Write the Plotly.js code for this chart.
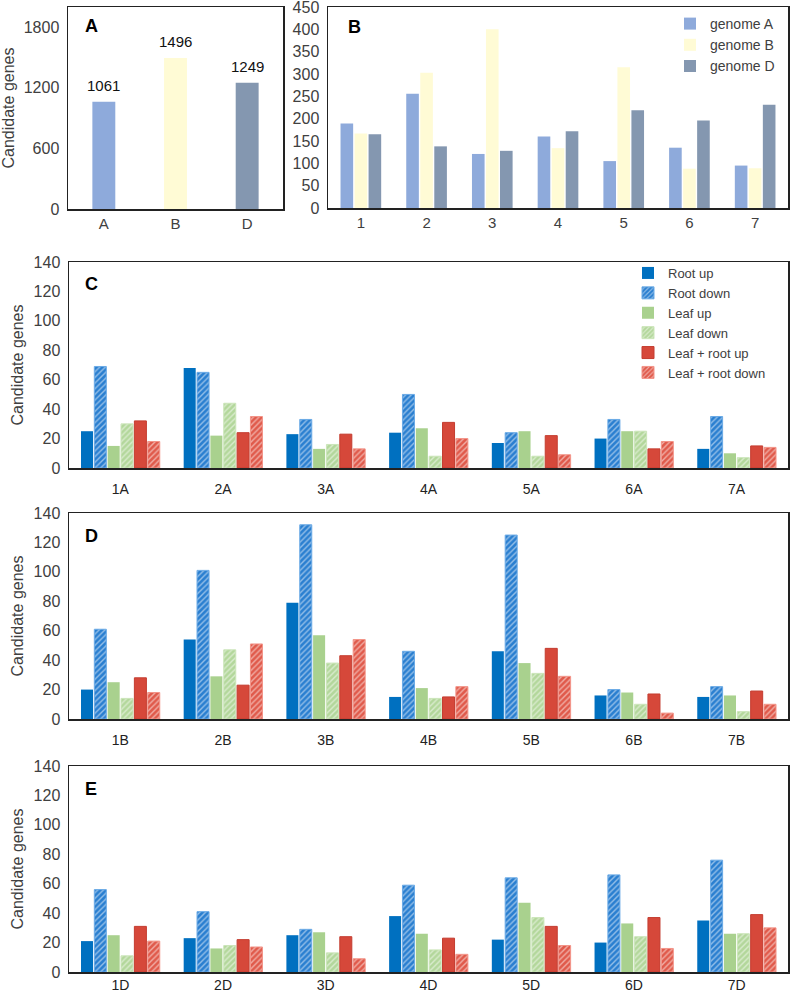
<!DOCTYPE html>
<html>
<head>
<meta charset="utf-8">
<script src="https://cdn.plot.ly/plotly-3.0.1.min.js"></script>
<style>
  html, body { margin: 0; padding: 0; background: #fff; }
  #chart { width: 790px; height: 994px; }
</style>
</head>
<body>
<div id="chart"></div>
<script>
// Panel A - candidate genes per sub-genome
const genomes = ["A", "B", "D"];
const genomeTotals = [1061, 1496, 1249];

// Panel B - candidate genes per homoeologous group
const groups = ["1", "2", "3", "4", "5", "6", "7"];
const genomeA = [189, 256, 121, 160, 105, 135, 95];
const genomeB = [167, 303, 400, 134, 315, 88, 89];
const genomeD = [165, 138, 128, 172, 219, 196, 231];

// Panel C - A genome chromosomes
const chromA = ["1A", "2A", "3A", "4A", "5A", "6A", "7A"];
const rootUpA = [25, 68, 23, 24, 17, 20, 13];
const rootDownA = [69, 65, 33, 50, 24, 33, 35];
const leafUpA = [15, 22, 13, 27, 25, 25, 10];
const leafDownA = [30, 44, 16, 8, 8, 25, 7];
const bothUpA = [32, 24, 23, 31, 22, 13, 15];
const bothDownA = [18, 35, 13, 20, 9, 18, 14];

// Panel D - B genome chromosomes
const chromB = ["1B", "2B", "3B", "4B", "5B", "6B", "7B"];
const rootUpB = [20, 54, 79, 15, 46, 16, 15];
const rootDownB = [61, 101, 132, 46, 125, 20, 22];
const leafUpB = [25, 29, 57, 21, 38, 18, 16];
const leafDownB = [14, 47, 38, 14, 31, 10, 5];
const bothUpB = [28, 23, 43, 15, 48, 17, 19];
const bothDownB = [18, 51, 54, 22, 29, 4, 10];

// Panel E - D genome chromosomes
const chromD = ["1D", "2D", "3D", "4D", "5D", "6D", "7D"];
const rootUpD = [21, 23, 25, 38, 22, 20, 35];
const rootDownD = [56, 41, 29, 59, 64, 66, 76];
const leafUpD = [25, 16, 27, 26, 47, 33, 26];
const leafDownD = [11, 18, 13, 15, 37, 24, 26];
const bothUpD = [31, 22, 24, 23, 31, 37, 39];
const bothDownD = [21, 17, 9, 12, 18, 16, 30];

const FONT = "Liberation Sans, Arial, sans-serif";
const genomeNames = ["genome A", "genome B", "genome D"];
const genomeColors = ["#8eaadb", "#fffbd5", "#8497b0"];

// styling of the six expression series
const seriesStyle = [
  { name: "Root up", color: "#0070c0", hatch: false },
  { name: "Root down", color: "#2a7fd0", hatch: true, edge: "#6aaae6" },
  { name: "Leaf up", color: "#a9d18e", hatch: false },
  { name: "Leaf down", color: "#b3d79b", hatch: true, edge: "#cbe5b9" },
  { name: "Leaf + root up", color: "#d6483a", hatch: false, edge: "#c43d30" },
  { name: "Leaf + root down", color: "#e05a4b", hatch: true, edge: "#f39488" },
];

function seriesMarker(s) {
  const m = { color: s.color, line: { color: s.edge || s.color, width: s.edge ? 1 : 0 } };
  if (s.hatch) {
    m.pattern = { shape: "/", fillmode: "overlay", bgcolor: s.color, fgcolor: "#ffffff", size: 4, solidity: 0.35 };
  }
  return m;
}

function panelTraces(cats, values, xa, ya, legendOn) {
  return values.map((v, i) => ({
    type: "bar",
    x: cats,
    y: v,
    name: seriesStyle[i].name,
    xaxis: xa,
    yaxis: ya,
    legend: "legend2",
    showlegend: legendOn,
    marker: seriesMarker(seriesStyle[i]),
    hoverinfo: "x+y+name",
  }));
}

const traces = [];

// panel A
traces.push({
  type: "bar",
  x: genomes,
  y: genomeTotals,
  xaxis: "x",
  yaxis: "y",
  width: 0.32,
  showlegend: false,
  marker: { color: genomeColors },
});

// panel B - grouped bars with their own gap (layout bargap is shared)
const bSeries = [genomeA, genomeB, genomeD];
const bGroupW = 0.64, bSlot = bGroupW / 3, bBarW = bSlot * 0.9;
bSeries.forEach((v, i) => {
  traces.push({
    type: "bar",
    x: groups,
    y: v,
    name: genomeNames[i],
    xaxis: "x2",
    yaxis: "y2",
    width: bBarW,
    offset: -bGroupW / 2 + i * bSlot + (bSlot - bBarW) / 2,
    legend: "legend",
    marker: { color: genomeColors[i] },
  });
});

traces.push(...panelTraces(chromA, [rootUpA, rootDownA, leafUpA, leafDownA, bothUpA, bothDownA], "x3", "y3", true));
traces.push(...panelTraces(chromB, [rootUpB, rootDownB, leafUpB, leafDownB, bothUpB, bothDownB], "x4", "y4", false));
traces.push(...panelTraces(chromD, [rootUpD, rootDownD, leafUpD, leafDownD, bothUpD, bothDownD], "x5", "y5", false));

const W = 790, H = 994;
const px = (a, b) => [a / W, b / W];
const py = (top, bottom) => [1 - bottom / H, 1 - top / H];

const boxAxis = {
  showline: true, mirror: true, linecolor: "#222", linewidth: 1.5,
  showgrid: false, zeroline: false, ticks: "", automargin: false, fixedrange: true,
  ticklabeloverflow: "allow",
};
const yTitle = { text: "Candidate genes", font: { size: 16, color: "#404040" }, standoff: 6 };
const yTick = { size: 16, color: "#404040" };
const xTick = { size: 14, color: "#222" };

const layout = {
  width: W,
  height: H,
  margin: { l: 0, r: 0, t: 0, b: 0 },
  paper_bgcolor: "#fff",
  plot_bgcolor: "#fff",
  font: { family: FONT, color: "#222" },
  barmode: "group",
  bargap: 0.22,
  bargroupgap: 0.1,
  xaxis: Object.assign({}, boxAxis, { type: "category", domain: px(68, 283), anchor: "y", tickfont: { size: 15, color: "#404040" }, ticklabelstandoff: 0 }),
  yaxis: Object.assign({}, boxAxis, { domain: py(7, 209), anchor: "x", range: [0, 2000], tickvals: [0, 600, 1200, 1800], tickfont: yTick, title: yTitle, ticklabelstandoff: 4 }),
  xaxis2: Object.assign({}, boxAxis, { type: "category", domain: px(328, 788), anchor: "y2", tickfont: { size: 15, color: "#404040" }, ticklabelstandoff: 0 }),
  yaxis2: Object.assign({}, boxAxis, { domain: py(7, 208), anchor: "x2", range: [0, 450], tickvals: [0, 50, 100, 150, 200, 250, 300, 350, 400, 450], tickfont: yTick, ticklabelstandoff: 4 }),
  xaxis3: Object.assign({}, boxAxis, { type: "category", domain: px(69, 788), anchor: "y3", tickfont: xTick, ticklabelstandoff: 8 }),
  yaxis3: Object.assign({}, boxAxis, { domain: py(262, 468), anchor: "x3", range: [0, 140], dtick: 20, tickfont: yTick, title: yTitle, ticklabelstandoff: 4 }),
  xaxis4: Object.assign({}, boxAxis, { type: "category", domain: px(69, 788), anchor: "y4", tickfont: xTick, ticklabelstandoff: 8 }),
  yaxis4: Object.assign({}, boxAxis, { domain: py(513, 719), anchor: "x4", range: [0, 140], dtick: 20, tickfont: yTick, title: yTitle, ticklabelstandoff: 4 }),
  xaxis5: Object.assign({}, boxAxis, { type: "category", domain: px(69, 788), anchor: "y5", tickfont: xTick, ticklabelstandoff: 0 }),
  yaxis5: Object.assign({}, boxAxis, { domain: py(766, 972), anchor: "x5", range: [0, 140], dtick: 20, tickfont: yTick, title: yTitle, ticklabelstandoff: 4 }),
  legend: {
    x: 670 / W, y: 1 - 8 / H, xanchor: "left", yanchor: "top",
    bgcolor: "rgba(0,0,0,0)", font: { size: 14, color: "#404040" },
    itemwidth: 30, tracegroupgap: 0,
  },
  legend2: {
    x: 628 / W, y: 1 - 258 / H, xanchor: "left", yanchor: "top",
    bgcolor: "rgba(0,0,0,0)", font: { size: 13, color: "#404040" },
    itemwidth: 30, tracegroupgap: 0,
  },
  annotations: [],
};

// value labels above the panel A bars
genomes.forEach((g, i) => {
  layout.annotations.push({
    x: g, y: genomeTotals[i], xref: "x", yref: "y",
    text: String(genomeTotals[i]), showarrow: false,
    yanchor: "bottom", yshift: 6, font: { size: 15, color: "#111" },
  });
});

// panel letters
const letters = [["A", 83, 26], ["B", 346, 27], ["C", 83, 284], ["D", 83, 536], ["E", 83, 789]];
letters.forEach(([t, x, y]) => {
  layout.annotations.push({
    x: x / W, y: 1 - y / H, xref: "paper", yref: "paper",
    xanchor: "left", yanchor: "middle", showarrow: false,
    text: "<b>" + t + "</b>", font: { size: 18, color: "#000" },
  });
});

Plotly.newPlot("chart", traces, layout, { displayModeBar: false, staticPlot: true });
</script>
</body>
</html>
